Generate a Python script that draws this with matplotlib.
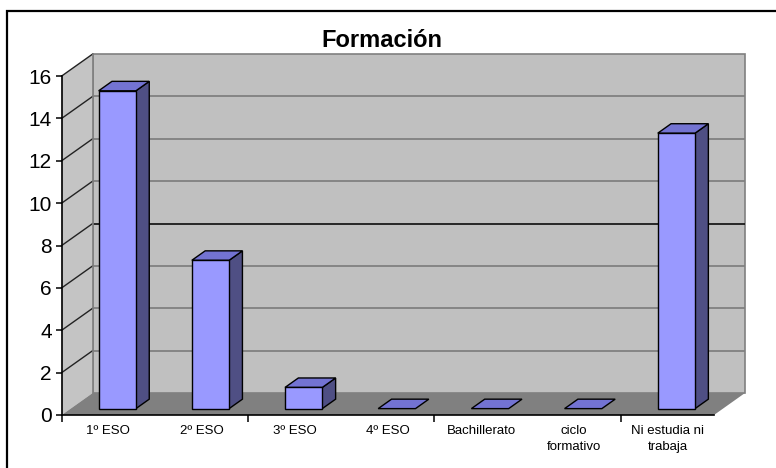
import matplotlib
matplotlib.use("Agg")
import matplotlib.pyplot as plt
from matplotlib.patches import Polygon, Rectangle

plt.rcParams['font.family'] = ['Liberation Sans', 'DejaVu Sans']

title = "Formación"
categories = ["1º ESO", "2º ESO", "3º ESO", "4º ESO", "Bachillerato",
              "ciclo\nformativo", "Ni estudia ni\ntrabaja"]
values = [15, 7, 1, 0, 0, 0, 13]
y_ticks = [0, 2, 4, 6, 8, 10, 12, 14, 16]

W, H = 776, 468
fig = plt.figure(figsize=(W / 100, H / 100), dpi=100)

# front plane in pixels
x_left, x_right = 61.7, 714.0
y_zero, y_top = 415.0, 76.0
ax = fig.add_axes([x_left / W, (H - y_zero) / H, (x_right - x_left) / W, (y_zero - y_top) / H])
n = len(categories)
ymax = 16
ax.set_xlim(0, n)
ax.set_ylim(0, ymax)
ax.patch.set_visible(False)

px_x = (x_right - x_left) / n
px_y = (y_zero - y_top) / ymax
ddx = 31 / px_x
ddy = 22 / px_y

def poly(pts, fc, ec='none', lw=0.0, z=1):
    p = Polygon(pts, closed=True, facecolor=fc, edgecolor=ec, linewidth=lw,
                clip_on=False, zorder=z)
    ax.add_patch(p)

# walls and floor
poly([(ddx, ddy), (n + ddx, ddy), (n + ddx, ymax + ddy), (ddx, ymax + ddy)],
     '#c0c0c0', '#808080', 1.2, z=0.5)
poly([(0, 0), (ddx, ddy), (ddx, ymax + ddy), (0, ymax)], '#c4c4c4', z=0.6)
poly([(0, 0), (n, 0), (n + ddx, ddy), (ddx, ddy)], '#808080', z=0.7)

# gridlines
for v in y_ticks[1:]:
    if v < ymax:
        col = '#1a1a1a' if v == 8 else '#808080'
        ax.plot([ddx, n + ddx], [v + ddy, v + ddy], color=col, lw=1.3,
                clip_on=False, zorder=0.8, solid_capstyle='butt')
    ax.plot([0, ddx], [v, v + ddy], color='#222222', lw=1.0, clip_on=False, zorder=0.8)
ax.plot([ddx, ddx], [ddy, ymax + ddy], color='#808080', lw=1.2, clip_on=False, zorder=0.8)

# bars
w = 0.40
d0, d1 = 0.29, 0.72
front_c, top_c, side_c = '#9999ff', '#7373d2', '#4f4f84'
for i, v in enumerate(values):
    x0 = i + 0.5 - w / 2
    x1 = x0 + w
    sx0, sy0 = d0 * ddx, d0 * ddy
    sx1, sy1 = d1 * ddx, d1 * ddy
    if v > 0:
        poly([(x1 + sx0, sy0), (x1 + sx0, v + sy0), (x1 + sx1, v + sy1), (x1 + sx1, sy1)],
             side_c, 'black', 1.0, z=2)
        poly([(x0 + sx0, sy0), (x1 + sx0, sy0), (x1 + sx0, v + sy0), (x0 + sx0, v + sy0)],
             front_c, 'black', 1.0, z=2.2)
    poly([(x0 + sx0, v + sy0), (x1 + sx0, v + sy0), (x1 + sx1, v + sy1), (x0 + sx1, v + sy1)],
         top_c, 'black', 1.0, z=2.1)

# axes / spines
for s in ['top', 'right']:
    ax.spines[s].set_visible(False)
for s in ['left', 'bottom']:
    ax.spines[s].set_linewidth(1.2)
    ax.spines[s].set_zorder(3)
ax.set_yticks(y_ticks)
ax.set_yticklabels([str(t) for t in y_ticks])
ax.tick_params(axis='y', direction='out', length=4.5, width=1.1, pad=2.5,
               labelsize=15, colors='black')
ax.set_xticks([0, 2, 4, 6])
ax.set_xticklabels([])
ax.tick_params(axis='x', which='major', direction='out', length=5, width=1.1)
ax.set_xticks([i + 0.5 for i in range(n)], minor=True)
ax.set_xticklabels(categories, minor=True, fontsize=9.5, linespacing=1.45)
ax.tick_params(axis='x', which='minor', length=0, pad=7.5)

# title
fig.text(381.7 / W, 1 - 46.7 / H, title, ha='center', va='baseline',
         fontsize=17, fontweight='bold')

# chart border
fig.add_artist(Rectangle((7.3 / W, -0.1), 1.2, 1 - 11 / H + 0.1, transform=fig.transFigure,
                         fill=False, edgecolor='black', linewidth=1.6))

fig.savefig("out.png", dpi=100)
